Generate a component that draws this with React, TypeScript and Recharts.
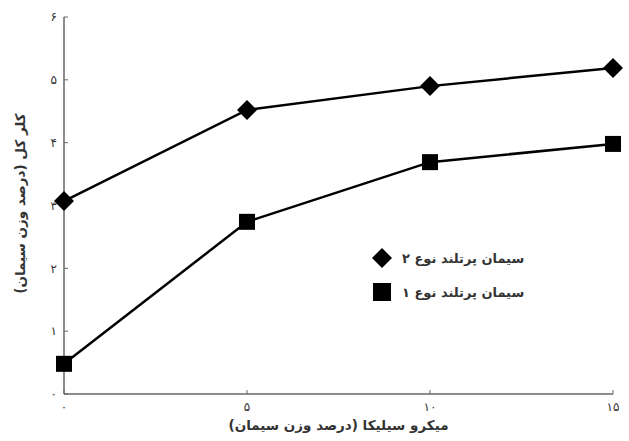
import React from 'react';
import { LineChart, Line, XAxis, YAxis, Label, Legend } from 'recharts';

const xValues = [0, 5, 10, 15];
const type2Values = [3.07, 4.52, 4.9, 5.19];
const type1Values = [0.48, 2.74, 3.69, 3.98];
const yTicks = [0, 1, 2, 3, 4, 5, 6];
const yTickLabels = ['۰', '۱', '۲', '۳', '۴', '۵', '۶'];
const xTicks = [0, 5, 10, 15];
const xTickLabels = ['۰', '۵', '۱۰', '۱۵'];
const seriesNames = ['سیمان پرتلند نوع ۲', 'سیمان پرتلند نوع ۱'];
const xTitle = 'میکرو سیلیکا (درصد وزن سیمان)';
const yTitle = 'کلر کل (درصد وزن سیمان)';

const data = xValues.map((x, i) => ({ x, t2: type2Values[i], t1: type1Values[i] }));

const FONT = '"DejaVu Sans", sans-serif';

const Diamond = (props: any) => {
  const { cx, cy, index } = props;
  if (cx == null || cy == null) return <g key={'d' + index} />;
  const r = 10;
  return (
    <path
      key={'d' + index}
      d={`M${cx},${cy - r}L${cx + r},${cy}L${cx},${cy + r}L${cx - r},${cy}Z`}
      fill="#000"
    />
  );
};

const Square = (props: any) => {
  const { cx, cy, index } = props;
  if (cx == null || cy == null) return <g key={'s' + index} />;
  const h = 8;
  return <rect key={'s' + index} x={cx - h} y={cy - h} width={2 * h} height={2 * h} fill="#000" />;
};

const LegendContent = () => (
  <div style={{ fontFamily: FONT, fontSize: 13, fontWeight: 'bold', color: '#333' }}>
    <div style={{ display: 'flex', alignItems: 'center', height: 22 }}>
      <svg width={22} height={22}>
        <path d="M11,1L21,11L11,21L1,11Z" fill="#000" />
      </svg>
      <span style={{ marginLeft: 9 }} dir="rtl">{seriesNames[0]}</span>
    </div>
    <div style={{ display: 'flex', alignItems: 'center', height: 22, marginTop: 12 }}>
      <svg width={22} height={22}>
        <rect x={2} y={2} width={18} height={18} fill="#000" />
      </svg>
      <span style={{ marginLeft: 9 }} dir="rtl">{seriesNames[1]}</span>
    </div>
  </div>
);

const YTitle = (props: any) => {
  const vb = props.viewBox || {};
  const cx = 20;
  const cy = vb.y + vb.height / 2 - 2;
  return (
    <text
      x={cx}
      y={cy}
      transform={`rotate(-90, ${cx}, ${cy})`}
      textAnchor="middle"
      dominantBaseline="central"
      direction="rtl"
      fontSize={13.5}
      fontWeight="bold"
      fontFamily={FONT}
      fill="#333"
    >
      {yTitle}
    </text>
  );
};

const XTitle = (props: any) => {
  const vb = props.viewBox || {};
  const cx = vb.x + vb.width / 2;
  return (
    <text
      x={cx}
      y={425}
      textAnchor="middle"
      dominantBaseline="central"
      direction="rtl"
      fontSize={13.5}
      fontWeight="bold"
      fontFamily={FONT}
      fill="#333"
    >
      {xTitle}
    </text>
  );
};

export default function App() {
  return (
    <div style={{ position: 'absolute', left: 0, top: 0, width: 629, height: 441, background: '#fff' }}>
      <LineChart
        width={629}
        height={441}
        data={data}
        margin={{ top: 17, right: 16, left: 0, bottom: 0 }}
      >
        <XAxis
          dataKey="x"
          type="number"
          domain={[0, 15]}
          ticks={xTicks}
          tickFormatter={(v: number) => xTickLabels[xTicks.indexOf(v)]}
          height={47}
          tickSize={-4}
          tickMargin={12}
          axisLine={{ stroke: '#666', strokeWidth: 1.5 }}
          tickLine={{ stroke: '#666' }}
          tick={{ fontSize: 12, fill: '#333', fontFamily: FONT }}
        >
          <Label content={<XTitle />} />
        </XAxis>
        <YAxis
          type="number"
          domain={[0, 6]}
          ticks={yTicks}
          tickFormatter={(v: number) => yTickLabels[yTicks.indexOf(v)]}
          width={64}
          tickSize={-4}
          tickMargin={11}
          axisLine={{ stroke: '#666', strokeWidth: 1.5 }}
          tickLine={{ stroke: '#666' }}
          tick={{ fontSize: 12, fill: '#333', fontFamily: FONT }}
          interval={0}
        >
          <Label content={<YTitle />} />
        </YAxis>
        <Legend
          layout="vertical"
          verticalAlign="middle"
          align="center"
          wrapperStyle={{ position: 'absolute', left: 371, top: 247, width: 'auto', height: 'auto' }}
          content={<LegendContent />}
        />
        <Line
          dataKey="t2"
          stroke="#000"
          strokeWidth={2.5}
          dot={<Diamond />}
          activeDot={false}
          isAnimationActive={false}
          name={seriesNames[0]}
        />
        <Line
          dataKey="t1"
          stroke="#000"
          strokeWidth={2.5}
          dot={<Square />}
          activeDot={false}
          isAnimationActive={false}
          name={seriesNames[1]}
        />
      </LineChart>
    </div>
  );
}
